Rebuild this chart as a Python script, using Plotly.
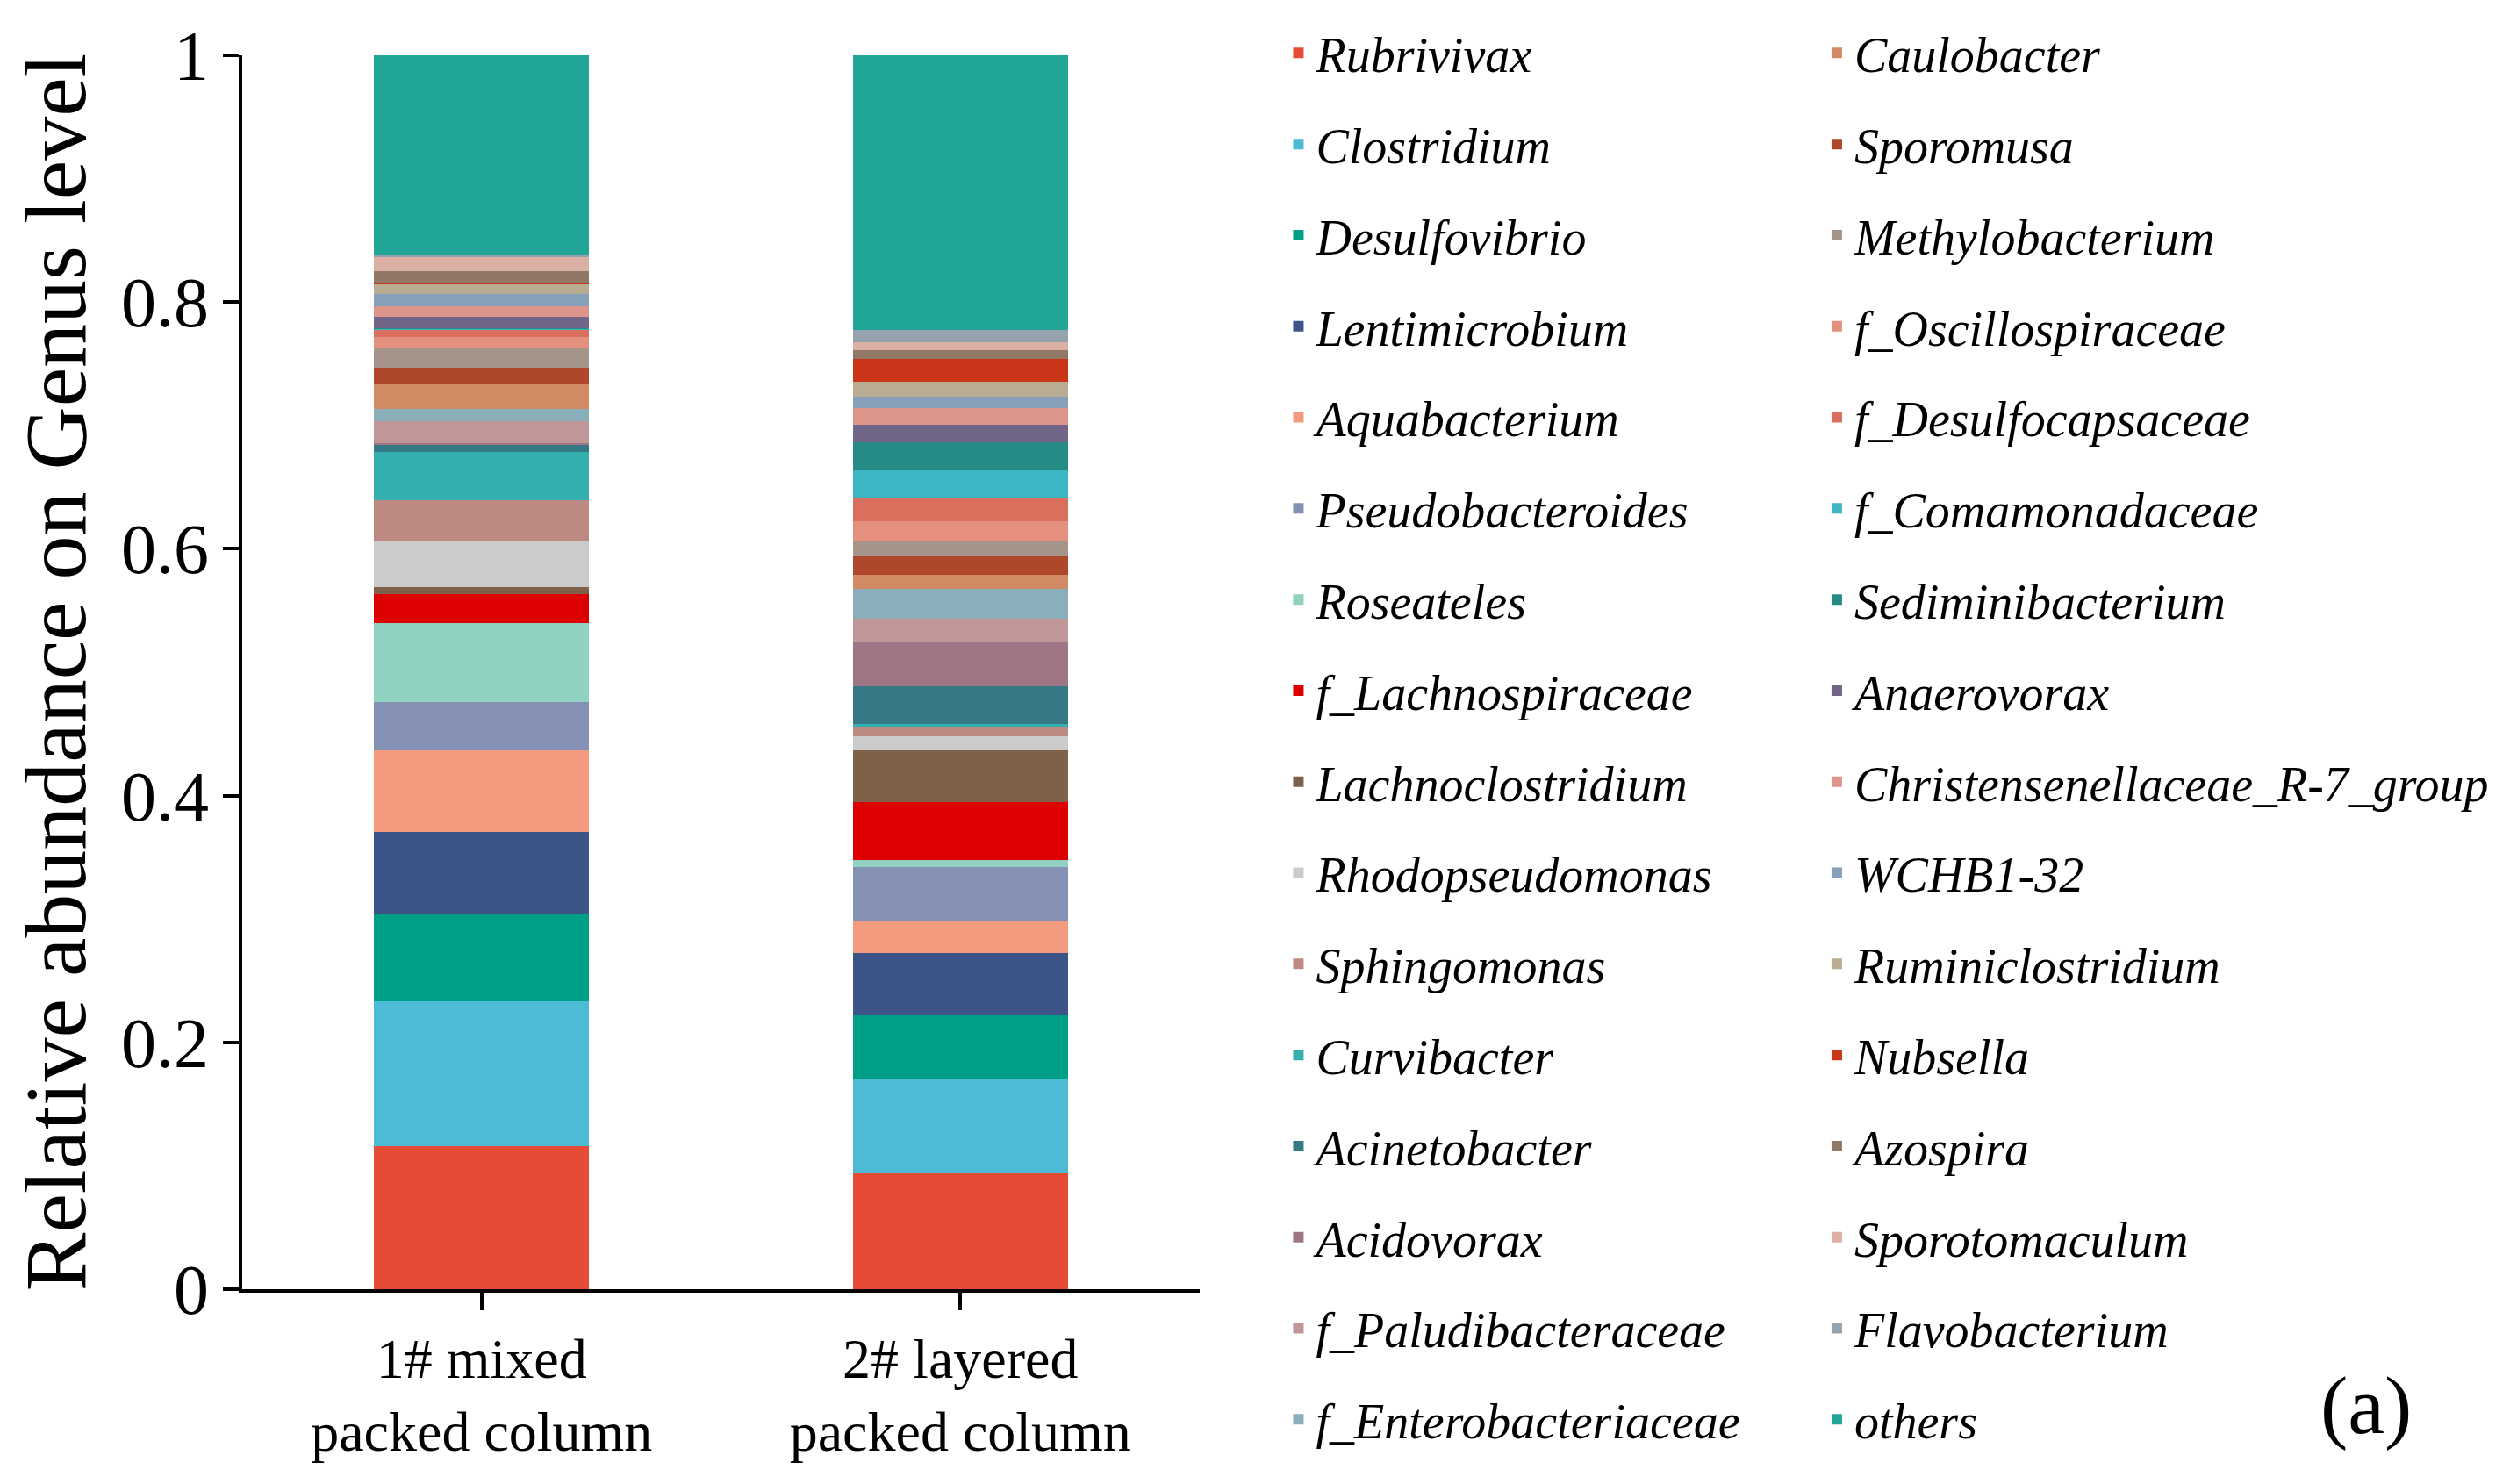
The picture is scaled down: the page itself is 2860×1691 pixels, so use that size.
import plotly.graph_objects as go

# Samples (x categories)
samples = ["1# mixed<br>packed column", "2# layered<br>packed column"]

# Genus names, stacked bottom to top
genera = [
    "Rubrivivax", "Clostridium", "Desulfovibrio", "Lentimicrobium",
    "Aquabacterium", "Pseudobacteroides", "Roseateles", "f_Lachnospiraceae",
    "Lachnoclostridium", "Rhodopseudomonas", "Sphingomonas", "Curvibacter",
    "Acinetobacter", "Acidovorax", "f_Paludibacteraceae", "f_Enterobacteriaceae",
    "Caulobacter", "Sporomusa", "Methylobacterium", "f_Oscillospiraceae",
    "f_Desulfocapsaceae", "f_Comamonadaceae", "Sediminibacterium", "Anaerovorax",
    "Christensenellaceae_R-7_group", "WCHB1-32", "Ruminiclostridium", "Nubsella",
    "Azospira", "Sporotomaculum", "Flavobacterium", "others",
]

# Relative abundance, sample 1 (mixed) and sample 2 (layered)
mixed = [
    0.116, 0.1175, 0.070, 0.067, 0.066, 0.039, 0.064, 0.024,
    0.0056, 0.0367, 0.0333, 0.0394, 0.0062, 0.001, 0.0176, 0.010,
    0.0206, 0.013, 0.0155, 0.0092, 0.0058, 0.0007, 0.0007, 0.0089,
    0.009, 0.0102, 0.008, 0.0005, 0.0094, 0.012, 0.001, 0.1622,
]
layered = [
    0.0936, 0.0766, 0.0517, 0.0505, 0.0253, 0.0441, 0.0057, 0.0469,
    0.0423, 0.0116, 0.0075, 0.002, 0.031, 0.0361, 0.0187, 0.0241,
    0.0116, 0.0148, 0.012, 0.0161, 0.0189, 0.0233, 0.0223, 0.0137,
    0.0134, 0.0096, 0.012, 0.0182, 0.0075, 0.0062, 0.0103, 0.2224,
]

colors = [
    "#E64B35", "#4DBBD5", "#00A087", "#3C5488", "#F39B7F", "#8491B4", "#91D1C2", "#DC0000",
    "#7E6148", "#CBCBCB", "#BC8A83", "#33AFB0", "#357886", "#9E7584", "#C09699", "#8BAFBA",
    "#D28A64", "#AF472B", "#A5948A", "#E5907F", "#D96F5C", "#3EB5C3", "#268B84", "#716588",
    "#DD958B", "#86A0BA", "#B8AD92", "#C93518", "#907766", "#DCAFA5", "#94A3AD", "#21A597",
]

y_ticks = [0, 0.2, 0.4, 0.6, 0.8, 1]
y_ticktext = ["0", "0.2", "0.4", "0.6", "0.8", "1"]

serif = "Liberation Serif, Times New Roman, serif"

fig = go.Figure()
for i, name in enumerate(genera):
    fig.add_trace(go.Bar(
        x=samples,
        y=[mixed[i], layered[i]],
        name=name,
        marker=dict(color=colors[i], line=dict(width=0)),
        width=0.45,
        legendgroup=name,
        legend="legend" if i < 16 else "legend2",
    ))

# two vertical legend columns, 16 entries each
legend_style = dict(
    xref="container", yref="container",
    xanchor="left", yanchor="top",
    traceorder="grouped",
    tracegroupgap=28,
    maxheight=1,
    bgcolor="rgba(0,0,0,0)",
    font=dict(family=serif, size=56, color="black", style="italic"),
)

fig.update_layout(
    width=2860,
    height=1691,
    barmode="stack",
    plot_bgcolor="white",
    paper_bgcolor="white",
    margin=dict(l=268, r=1501, t=48, b=230),
    font=dict(family=serif, color="black"),
    legend=dict(x=0.5075, y=0.9944, **legend_style),
    legend2=dict(x=0.722, y=0.9944, **legend_style),
    xaxis=dict(
        showline=True, linecolor="black", linewidth=4,
        ticks="outside", ticklen=20, tickwidth=4, tickcolor="black",
        tickfont=dict(family=serif, size=64, color="black"),
        range=[-0.5, 1.5],
        showgrid=False,
    ),
    yaxis=dict(
        range=[0, 1],
        tickvals=y_ticks, ticktext=y_ticktext,
        showline=True, linecolor="black", linewidth=4,
        ticks="outside", ticklen=18, tickwidth=4, tickcolor="black",
        tickfont=dict(family=serif, size=80, color="black"),
        showgrid=False, zeroline=False,
        title=dict(text="Relative abundance on Genus level",
                   font=dict(family=serif, size=100, color="black"),
                   standoff=16),
    ),
)

# panel label "(a)" in the lower right corner
fig.add_annotation(
    text="(a)", xref="paper", yref="paper",
    x=2.218, y=-0.094, xanchor="center", yanchor="middle",
    showarrow=False, font=dict(family=serif, size=94, color="black"),
)

fig.write_html("out.html")
